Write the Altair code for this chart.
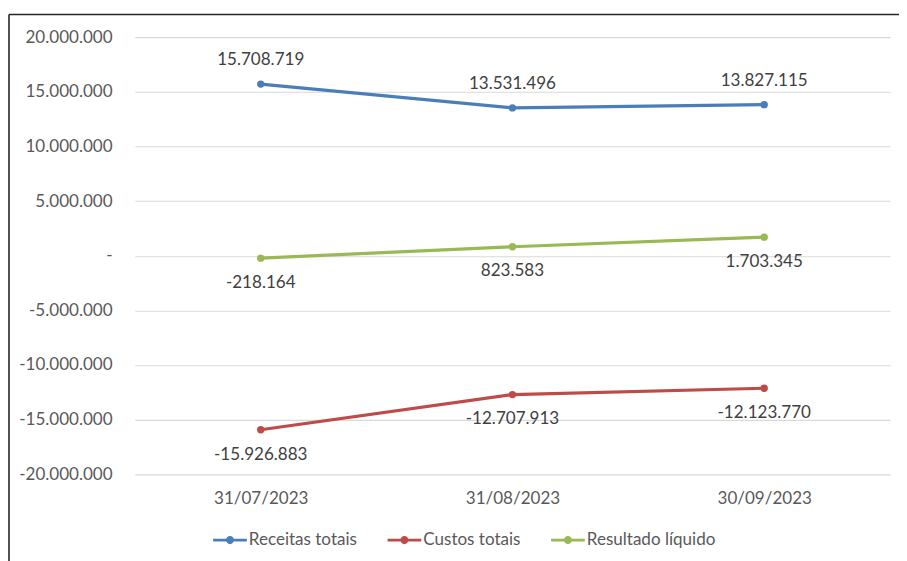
import altair as alt
import pandas as pd

dates = ["31/07/2023", "31/08/2023", "30/09/2023"]
series_names = ["Receitas totais", "Custos totais", "Resultado líquido"]
receitas = [15708719, 13531496, 13827115]
custos = [-15926883, -12707913, -12123770]
resultado = [-218164, 823583, 1703345]
colors = ["#4A7EBB", "#BE4B48", "#98B954"]
y_ticks = [-20000000, -15000000, -10000000, -5000000, 0, 5000000, 10000000, 15000000, 20000000]

rows = []
for name, vals in zip(series_names, [receitas, custos, resultado]):
    for d, v in zip(dates, vals):
        rows.append({"date": d, "series": name, "value": v,
                     "label": f"{v:,}".replace(",", ".")})
df = pd.DataFrame(rows)

FONT = "Lato"
TXT = "#595959"
FS = 17.2

x_enc = alt.X("date:N", sort=dates, title=None,
              scale=alt.Scale(paddingInner=0, paddingOuter=0),
              axis=alt.Axis(labelFont=FONT, labelFontSize=FS, labelColor=TXT,
                            labelAngle=0, labelPadding=15, ticks=False, domain=False,
                            grid=False))
y_enc = alt.Y("value:Q", title=None,
              scale=alt.Scale(domain=[-20000000, 20000000], nice=False, zero=False),
              axis=alt.Axis(values=y_ticks, labelFont=FONT, labelFontSize=FS,
                            labelColor=TXT, labelPadding=23, ticks=False, domain=False,
                            gridColor="#D9D9D9", gridWidth=1.2,
                            labelExpr="datum.value == 0 ? '-' : replace(replace(format(datum.value, ',.0f'), /,/g, '.'), /\u2212/g, '-')"))
color_scale = alt.Scale(domain=series_names, range=colors)

base = alt.Chart(df)

lines = base.mark_line(strokeWidth=3.2).encode(
    x=x_enc, y=y_enc,
    color=alt.Color("series:N", scale=color_scale, legend=None),
    detail="series:N",
)

legend_path = ("M-1,-0.085H1V0.085H-1Z "
               "M-0.24,0A0.24,0.24 0 1,1 0.24,0A0.24,0.24 0 1,1 -0.24,0Z")
points = base.mark_circle(size=55, opacity=1).encode(
    x=alt.X("date:N", sort=dates),
    y=alt.Y("value:Q"),
    color=alt.Color("series:N", scale=color_scale, sort=series_names,
                    legend=alt.Legend(title=None, orient="none", direction="horizontal",
                                      legendX=79, legendY=490,
                                      symbolType=legend_path, symbolSize=1156,
                                      symbolStrokeWidth=0, symbolOpacity=1,
                                      labelFont=FONT, labelFontSize=FS,
                                      labelColor=TXT, labelOffset=2,
                                      columnPadding=30, symbolLimit=0)),
)

labels_above = base.transform_filter(alt.datum.series == "Receitas totais").mark_text(
    font=FONT, fontSize=FS, color="#404040", dy=-24
).encode(x=alt.X("date:N", sort=dates), y="value:Q", text="label:N")

labels_below = base.transform_filter(alt.datum.series != "Receitas totais").mark_text(
    font=FONT, fontSize=FS, color="#404040", dy=25
).encode(x=alt.X("date:N", sort=dates), y="value:Q", text="label:N")

one = pd.DataFrame({"a": [0]})
frame_top = alt.Chart(one).mark_rule(color="#262626", strokeWidth=1.6).encode(
    x=alt.value(-127), x2=alt.value(800), y=alt.value(-23))
frame_left = alt.Chart(one).mark_rule(color="#262626", strokeWidth=1.6).encode(
    x=alt.value(-127), y=alt.value(-23), y2=alt.value(560))

chart = alt.layer(frame_top, frame_left, lines, points, labels_above, labels_below).resolve_legend(
    color="independent"
).properties(
    width=762, height=441,
    padding={"left": 128, "top": 27, "right": 9, "bottom": 85},
    autosize=alt.AutoSizeParams(type="none"),
    background="white",
).configure_view(stroke=None)

chart.save("out.html", embed_options={"renderer": "svg", "actions": False})
